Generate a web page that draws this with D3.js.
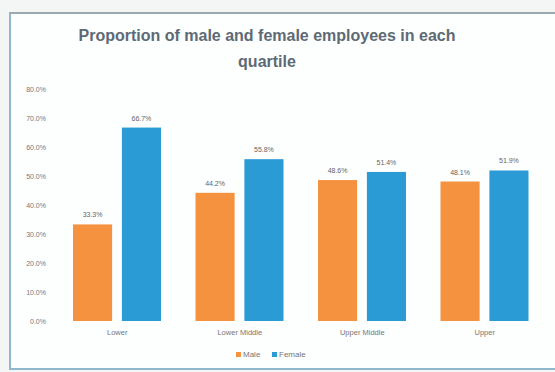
<!DOCTYPE html>
<html>
<head>
<meta charset="utf-8">
<script src="https://cdn.jsdelivr.net/npm/d3@7"></script>
<style>
  body { margin: 0; background: #f4f6f6; }
  svg { display: block; font-family: "Liberation Sans", Arial, sans-serif; }
</style>
</head>
<body>
<svg width="555" height="372"></svg>
<script>

var categories = ["Lower", "Lower Middle", "Upper Middle", "Upper"]
var series = ["Male", "Female"]
var male = [33.3, 44.2, 48.6, 48.1]
var female = [66.7, 55.8, 51.4, 51.9]
var yTicks = [0, 10, 20, 30, 40, 50, 60, 70, 80]
var colors = ["#f5923f", "#2b9bd5"]

var svg = d3.select("svg")

// chart frame
svg.append("rect")
  .attr("x", 10).attr("y", 13)
  .attr("width", 560).attr("height", 356)
  .style("fill", "#fdfefe")
  .style("stroke", "#8fb8cc")
  .style("stroke-width", 2)

svg.append("line")
  .attr("x1", 10).attr("x2", 555).attr("y1", 13).attr("y2", 13)
  .style("stroke", "#9aa9ae").style("stroke-width", 2)

// title
var title = svg.append("text")
  .attr("text-anchor", "middle")
  .style("font-size", "16px")
  .style("font-weight", "bold")
  .style("fill", "#5d6a75")
title.append("tspan").attr("x", 267).attr("y", 41).text("Proportion of male and female employees in each")
title.append("tspan").attr("x", 267).attr("y", 67).text("quartile")

var x = d3.scaleBand().domain(categories).range([56, 546])
var inner = d3.scaleBand().domain(series).range([17, 105]).paddingInner(0.2)
var y = d3.scaleLinear().domain([0, 80]).range([321, 89])

// y axis labels
var yAxis = svg.append("g")
  .attr("transform", "translate(46,0)")
  .call(d3.axisLeft(y).tickValues(yTicks).tickSize(0).tickPadding(0)
    .tickFormat(function(d){ return d.toFixed(1) + "%"; }))
yAxis.select(".domain").remove()
yAxis.selectAll("text").style("font-size", "7px").style("fill", "#777").style("font-family", "inherit")

// x axis labels
var xAxis = svg.append("g")
  .attr("transform", "translate(0,330)")
  .call(d3.axisBottom(x).tickSize(0).tickPadding(0))
xAxis.select(".domain").remove()
xAxis.selectAll("text").style("font-size", "7.5px").style("fill", "#777").style("font-family", "inherit")

var rows = categories.map(function(c, i){
  return {cat: c, values: [{s: "Male", v: male[i]}, {s: "Female", v: female[i]}]}
})

var groups = svg.selectAll(".grp").data(rows).enter().append("g")
  .attr("class", "grp")
  .attr("transform", function(d){ return "translate(" + x(d.cat) + ",0)"; })

groups.selectAll("rect").data(function(d){ return d.values; })
  .enter().append("rect")
    .attr("x", function(d){ return inner(d.s); })
    .attr("width", inner.bandwidth())
    .attr("y", function(d){ return y(d.v); })
    .attr("height", function(d){ return y(0) - y(d.v); })
    .style("fill", function(d, i){ return colors[i]; })

groups.selectAll(".lbl").data(function(d){ return d.values; })
  .enter().append("text")
    .attr("class", "lbl")
    .attr("text-anchor", "middle")
    .attr("x", function(d){ return inner(d.s) + inner.bandwidth() / 2; })
    .attr("y", function(d){ return y(d.v) - 7; })
    .style("font-size", "7px")
    .style("fill", "#666")
    .text(function(d){ return d.v.toFixed(1) + "%"; })

// legend
var legend = svg.append("g").attr("transform", "translate(236,357)")
var items = legend.selectAll("g").data(series).enter().append("g")
  .attr("transform", function(d, i){ return "translate(" + (i * 36) + ",0)"; })
items.append("rect")
  .attr("x", 0).attr("y", -5).attr("width", 5).attr("height", 5)
  .style("fill", function(d, i){ return colors[i]; })
items.append("text")
  .attr("x", 7).attr("y", 0)
  .style("font-size", "8px").style("fill", "#777")
  .text(function(d){ return d; })

</script>
</body>
</html>
